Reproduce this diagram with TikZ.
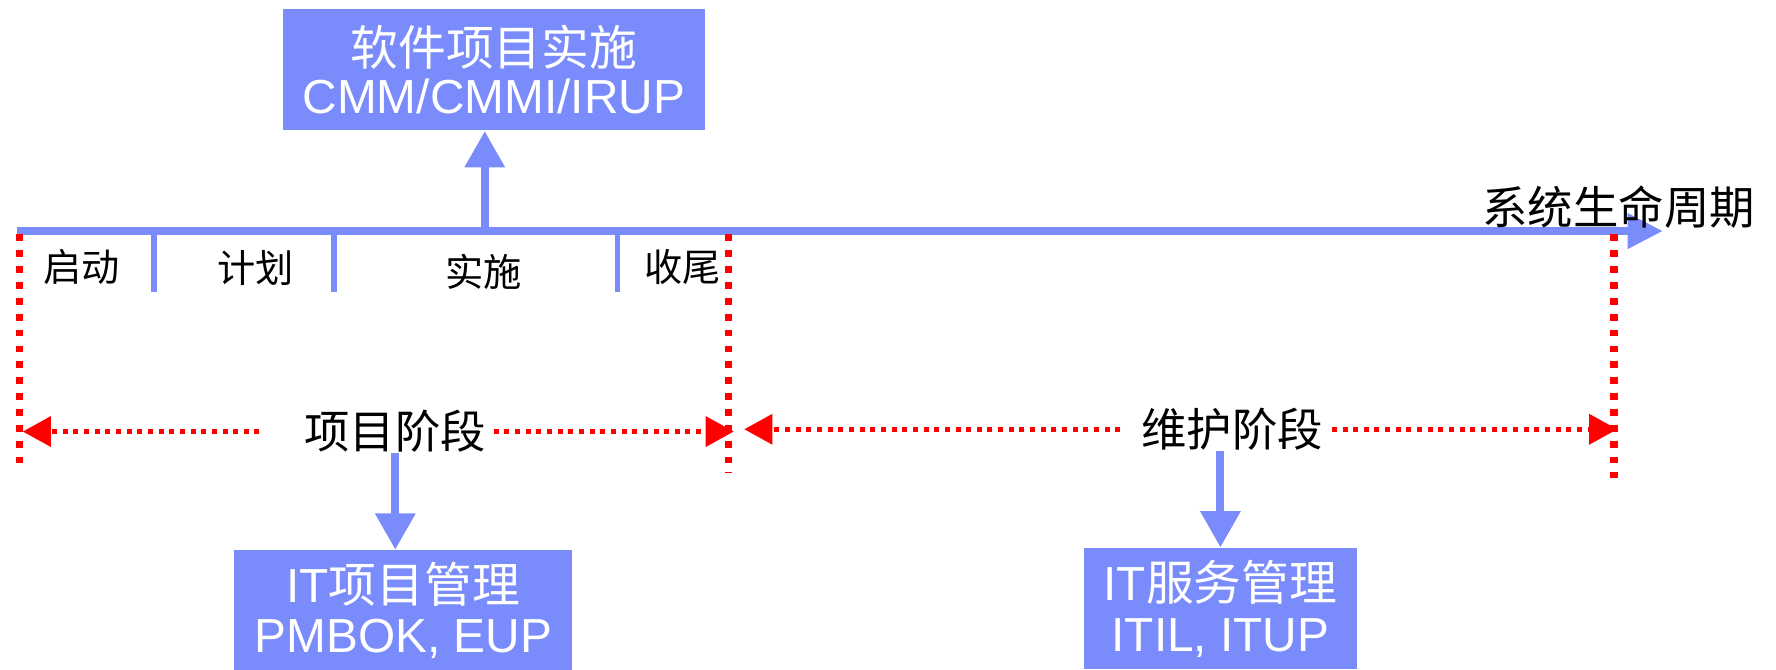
\documentclass[tikz,border=0pt]{standalone}
\usepackage{fontspec}
\setmainfont{Liberation Sans}
\newfontfamily\cjk{Noto Sans CJK SC}
\usetikzlibrary{arrows.meta}
\definecolor{boxblue}{RGB}{122,139,251}
\definecolor{dotred}{RGB}{255,0,0}

\begin{document}
\begin{tikzpicture}[x=0.01cm,y=-0.01cm]
\tikzstyle{every node}+=[inner sep=0pt]
\tikzstyle{box}=[fill=boxblue,text=white,align=center,font=\fontsize{12}{12.6}\selectfont]
\tikzstyle{lbl}=[font=\cjk\fontsize{11.4}{12}\selectfont]
\tikzstyle{phase}=[font=\cjk\fontsize{9.6}{10}\selectfont]
\tikzstyle{lifeaxis}=[boxblue,line width=1.85pt,-{Triangle[length=0.31cm,width=0.30cm]}]
\tikzstyle{feed}=[boxblue,line width=2pt,-{Triangle[length=0.32cm,width=0.34cm]}]
\tikzstyle{tickmark}=[boxblue,line width=1.4pt]
\tikzstyle{boundline}=[dotred,line width=1.8pt,dash pattern=on 0.06cm off 0.08cm]
\tikzstyle{span}=[dotred,line width=1.35pt,dash pattern=on 0.044cm off 0.05cm,-{Triangle[length=0.25cm,width=0.26cm]}]
\useasboundingbox (0,0) rectangle (1568,591);

% life cycle axis
\coordinate (a0) at (15,204);
\coordinate (a1) at (1468,204);
\draw [lifeaxis] (a0) -- (a1);
\node [lbl,anchor=east] (life) at (1550,183) {系统生命周期};
\foreach \x in {136,295,545}
  \draw [tickmark] (\x,206) -- (\x,258);
\node [phase] (start) at (72,236) {启动};
\node [phase] (plan) at (226,237) {计划};
\node [phase] (exec) at (427,240) {实施};
\node [phase] (close) at (603,236) {收尾};

% phase bounds
\foreach \x/\y in {17/410,643/418,1425/422}
  \draw [boundline] (\x,207) -- (\x,\y);

% software project
\node [box,minimum width=3.72cm,minimum height=1.07cm] (cmm) at (436,61.5) {{\cjk 软件项目实施}\\[-0.6pt]CMM/CMMI/IRUP};
\coordinate (up) at (428,204);
\draw [feed] (up) -- (up |- cmm.south);

% project stage
\node [lbl] (proj) at (349,381) {项目阶段};
\coordinate (pl) at (20,381);
\coordinate (pr) at (648,381);
\draw [span] ([xshift=-0.39cm]proj.west) -- (pl);
\draw [span] ([xshift=0.06cm]proj.east) -- (pr);
\node [box,minimum width=2.98cm,minimum height=1.06cm] (itpm) at (356,539) {IT{\cjk 项目管理}\\PMBOK, EUP};
\draw [feed] (proj.south) -- (proj.south |- itpm.north);

% maintenance stage
\node [lbl] (mnt) at (1088,379) {维护阶段};
\coordinate (ml) at (657,379);
\coordinate (mr) at (1428,379);
\draw [span] ([xshift=-0.18cm]mnt.west) -- (ml);
\draw [span] ([xshift=0.07cm]mnt.east) -- (mr);
\node [box,minimum width=2.41cm,minimum height=1.07cm] (itsm) at (1077.5,537.5) {IT{\cjk 服务管理}\\ITIL, ITUP};
\draw [feed] (itsm.north |- mnt.south) -- (itsm.north);
\end{tikzpicture}
\end{document}
